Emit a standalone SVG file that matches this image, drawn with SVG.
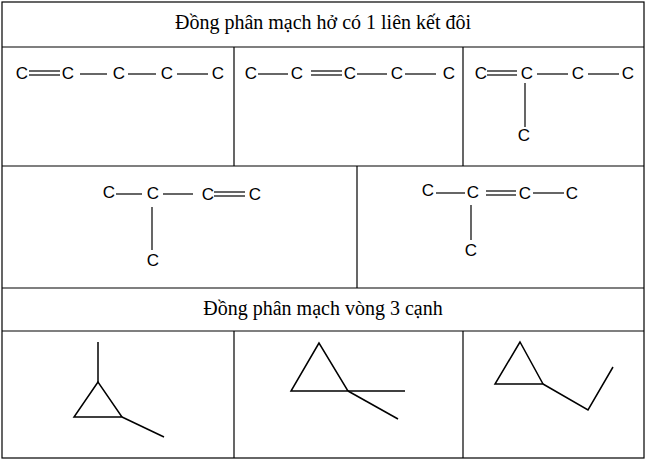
<svg xmlns="http://www.w3.org/2000/svg" width="645" height="462" viewBox="0 0 645 462">
<style>
.g line,.g polyline,.g polygon{stroke:#000;fill:none}
.c{font-family:"Liberation Sans",Arial,sans-serif;font-size:17px;text-anchor:middle;dominant-baseline:central;stroke:none;fill:#000}
.t{font-family:"Liberation Serif","Times New Roman",serif;font-size:20px;text-anchor:middle}
.b{stroke:#000;stroke-width:1.2}
.r{stroke:#000;stroke-width:1.5;fill:none}
</style>
<rect width="645" height="462" fill="#fff"/>
<g id="table" class="b">
<rect x="2" y="2" width="642" height="456" fill="none"/>
<line x1="2" y1="47" x2="644" y2="47"/><line x1="2" y1="166" x2="644" y2="166"/>
<line x1="2" y1="288" x2="644" y2="288"/><line x1="2" y1="331" x2="644" y2="331"/>
<line x1="234" y1="47" x2="234" y2="166"/><line x1="463" y1="47" x2="463" y2="166"/>
<line x1="357" y1="166" x2="357" y2="288"/>
<line x1="234" y1="331" x2="234" y2="458"/><line x1="463" y1="331" x2="463" y2="458"/>
</g>
<text id="title1" class="t" x="323" y="29">Đồng phân mạch hở có 1 liên kết đôi</text>
<text id="title2" class="t" x="323" y="315">Đồng phân mạch vòng 3 cạnh</text>
<g id="s1" class="b">
<text class="c" x="22" y="73">C</text><text class="c" x="68" y="73">C</text><text class="c" x="119" y="73">C</text><text class="c" x="167" y="73">C</text><text class="c" x="218" y="73">C</text>
<line x1="29" y1="71" x2="60" y2="71"/><line x1="29" y1="75" x2="60" y2="75"/>
<line x1="80" y1="74" x2="107" y2="74"/><line x1="128" y1="74" x2="156" y2="74"/><line x1="177" y1="74" x2="208" y2="74"/>
</g>
<g id="s2" class="b">
<text class="c" x="251" y="73">C</text><text class="c" x="297" y="73">C</text><text class="c" x="350" y="73">C</text><text class="c" x="397" y="73">C</text><text class="c" x="449" y="73">C</text>
<line x1="258" y1="74" x2="288" y2="74"/>
<line x1="311" y1="71" x2="342" y2="71"/><line x1="311" y1="75" x2="342" y2="75"/>
<line x1="357" y1="74" x2="387" y2="74"/><line x1="405" y1="74" x2="436" y2="74"/>
</g>
<g id="s3" class="b">
<text class="c" x="481" y="73">C</text><text class="c" x="527" y="73">C</text><text class="c" x="578" y="73">C</text><text class="c" x="628" y="73">C</text>
<line x1="487" y1="71" x2="517" y2="71"/><line x1="487" y1="75" x2="517" y2="75"/>
<line x1="537" y1="74" x2="568" y2="74"/><line x1="588" y1="74" x2="619" y2="74"/>
<line x1="525" y1="83" x2="525" y2="127"/>
<text class="c" x="524" y="135">C</text>
</g>
<g id="s4" class="b">
<text class="c" x="109" y="192">C</text><text class="c" x="153" y="193">C</text><text class="c" x="208" y="194">C</text><text class="c" x="255" y="194">C</text>
<line x1="116" y1="194" x2="142" y2="194"/><line x1="163" y1="194" x2="193" y2="194"/>
<line x1="214" y1="192" x2="245" y2="192"/><line x1="214" y1="196" x2="245" y2="196"/>
<line x1="152" y1="207" x2="152" y2="250"/>
<text class="c" x="153" y="260">C</text>
</g>
<g id="s5" class="b">
<text class="c" x="428" y="190">C</text><text class="c" x="473" y="192">C</text><text class="c" x="525" y="193">C</text><text class="c" x="572" y="193">C</text>
<line x1="436" y1="193" x2="465" y2="193"/>
<line x1="486" y1="191" x2="516" y2="191"/><line x1="486" y1="195" x2="516" y2="195"/>
<line x1="533" y1="193" x2="564" y2="193"/>
<line x1="471" y1="205" x2="471" y2="240"/>
<text class="c" x="471" y="250">C</text>
</g>
<g id="r1"><polyline class="r" points="98,342 98,382"/><polygon class="r" points="98,382 74,417 122,417"/><polyline class="r" points="122,417 164,437"/></g>
<g id="r2"><polygon class="r" points="319,343 291,391 348,391"/><polyline class="r" points="348,391 405,391"/><polyline class="r" points="348,391 398,419"/></g>
<g id="r3"><polygon class="r" points="520,342 495,384 543,384"/><polyline class="r" points="543,384 588,410 613,367"/></g>
</svg>
